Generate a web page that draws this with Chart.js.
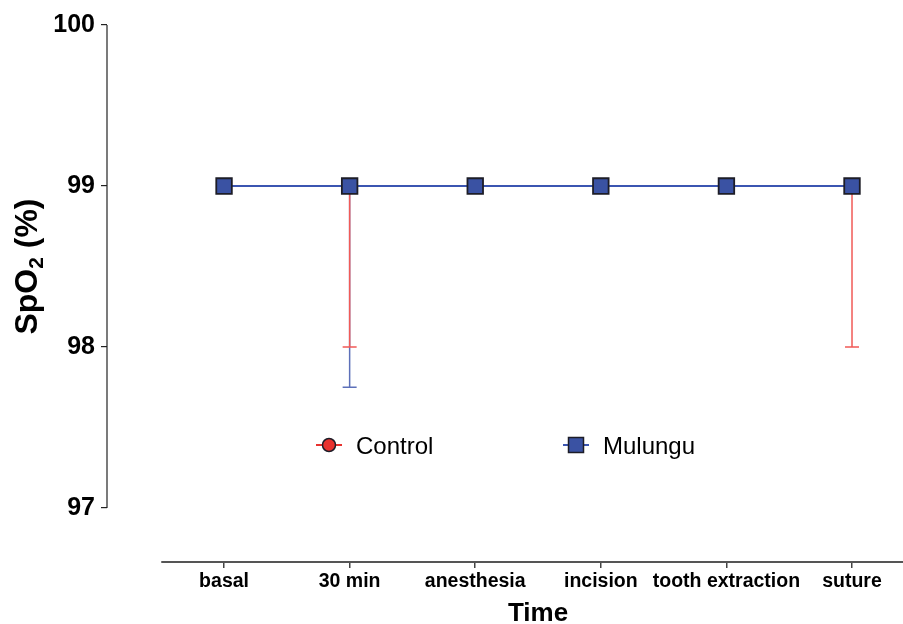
<!DOCTYPE html>
<html>
<head>
<meta charset="utf-8">
<script src="https://cdn.jsdelivr.net/npm/chart.js@4.4.1/dist/chart.umd.min.js"></script>
<style>
  html, body { margin: 0; padding: 0; background: #ffffff; }
  #wrap { width: 903px; height: 624px; }
</style>
</head>
<body>
<div id="wrap"><canvas id="c" width="903" height="624"></canvas></div>
<script>
// SpO2 over the course of the procedure, mean with one-sided (lower) error
const categories = ['basal', '30 min', 'anesthesia', 'incision', 'tooth extraction', 'suture'];
const controlMean = [99, 99, 99, 99, 99, 99];
const controlErr  = [0, 1, 0, 0, 0, 1];
const mulunguMean = [99, 99, 99, 99, 99, 99];
const mulunguErr  = [0, 1.25, 0, 0, 0, 0];
const yTicks = [97, 98, 99, 100];
const xTicks = [0, 1, 2, 3, 4, 5];

const FONT = '"Liberation Sans", Arial, Helvetica, sans-serif';

const RED = '#e8322f';
const RED_BAR = '#f15a57';
const BLUE = '#3a52a3';
const BLUE_LINE = '#3b55b1';
const BLUE_BAR = '#5d70b9';
const EDGE = '#1d1d27';

const toPoints = (arr) => arr.map((v, i) => ({ x: i, y: v }));

// Axis lines drawn in the offset style: y spans only its tick range,
// x starts half a category before the first point.
const axisLines = {
  id: 'axisLines',
  afterDraw(chart) {
    const { ctx, chartArea, scales } = chart;
    const y = scales.y, x = scales.x;
    ctx.save();
    ctx.strokeStyle = '#222';
    ctx.lineWidth = 1.2;
    ctx.beginPath();
    ctx.moveTo(chartArea.left, y.getPixelForValue(yTicks[0]));
    ctx.lineTo(chartArea.left, y.getPixelForValue(yTicks[yTicks.length - 1]));
    ctx.stroke();
    ctx.strokeStyle = '#555';
    ctx.lineWidth = 2;
    ctx.beginPath();
    ctx.moveTo(x.getPixelForValue(-0.5), chartArea.bottom);
    ctx.lineTo(chartArea.right, chartArea.bottom);
    ctx.stroke();
    // x-axis title, centred under the category band
    ctx.fillStyle = '#000';
    ctx.font = 'bold 26px ' + FONT;
    ctx.textAlign = 'center';
    ctx.textBaseline = 'alphabetic';
    ctx.fillText('Time', x.getPixelForValue((xTicks[0] + xTicks[xTicks.length - 1]) / 2), 621);
    ctx.restore();
  }
};

// Lower error bars with caps, drawn under the markers
const errorBars = {
  id: 'errorBars',
  beforeDatasetsDraw(chart) {
    const { ctx, scales } = chart;
    const sets = [
      { mean: mulunguMean, err: mulunguErr, color: BLUE_BAR },
      { mean: controlMean, err: controlErr, color: RED_BAR }
    ];
    ctx.save();
    ctx.lineWidth = 1.5;
    sets.forEach(s => {
      ctx.strokeStyle = s.color;
      s.mean.forEach((m, i) => {
        if (!s.err[i]) return;
        const px = scales.x.getPixelForValue(i);
        const y0 = scales.y.getPixelForValue(m);
        const y1 = scales.y.getPixelForValue(m - s.err[i]);
        ctx.beginPath();
        ctx.moveTo(px, y0);
        ctx.lineTo(px, y1);
        ctx.moveTo(px - 7, y1);
        ctx.lineTo(px + 7, y1);
        ctx.stroke();
      });
    });
    ctx.restore();
  }
};

// Y-axis title with a subscript 2
const yTitle = {
  id: 'yTitle',
  afterDraw(chart) {
    const { ctx, chartArea } = chart;
    const big = 'bold 32px ' + FONT;
    const small = 'bold 21px ' + FONT;
    ctx.save();
    ctx.fillStyle = '#000';
    ctx.textBaseline = 'alphabetic';
    ctx.textAlign = 'left';
    ctx.font = big;
    const w1 = ctx.measureText('SpO').width;
    const w3 = ctx.measureText(' (%)').width;
    ctx.font = small;
    const w2 = ctx.measureText('2').width;
    const total = w1 + w2 + w3;
    const cy = (chartArea.top + chart.scales.y.getPixelForValue(yTicks[0])) / 2;
    ctx.translate(37, cy);
    ctx.rotate(-Math.PI / 2);
    let xr = -total / 2;
    ctx.font = big;
    ctx.fillText('SpO', xr, 0);
    xr += w1;
    ctx.font = small;
    ctx.fillText('2', xr, 6);
    xr += w2;
    ctx.font = big;
    ctx.fillText(' (%)', xr, 0);
    ctx.restore();
  }
};

// Legend placed inside the plot area
const innerLegend = {
  id: 'innerLegend',
  afterDraw(chart) {
    const { ctx } = chart;
    const items = [
      { ds: chart.data.datasets[0], cx: 329 },
      { ds: chart.data.datasets[1], cx: 576 }
    ];
    const cy = 445;
    ctx.save();
    items.forEach(it => {
      const ds = it.ds;
      ctx.strokeStyle = ds.borderColor;
      ctx.lineWidth = 2;
      ctx.beginPath();
      ctx.moveTo(it.cx - 13, cy);
      ctx.lineTo(it.cx + 13, cy);
      ctx.stroke();
      ctx.fillStyle = ds.pointBackgroundColor;
      ctx.strokeStyle = ds.pointBorderColor;
      ctx.lineWidth = 1.5;
      ctx.beginPath();
      if (ds.pointStyle === 'rect') {
        ctx.rect(it.cx - 7.5, cy - 7.5, 15, 15);
      } else {
        ctx.arc(it.cx, cy, 6.5, 0, Math.PI * 2);
      }
      ctx.fill();
      ctx.stroke();
      ctx.fillStyle = '#000';
      ctx.font = '24px ' + FONT;
      ctx.textBaseline = 'alphabetic';
      ctx.textAlign = 'left';
      ctx.fillText(ds.label, it.cx + 27, cy + 9);
    });
    ctx.restore();
  }
};

new Chart(document.getElementById('c'), {
  type: 'line',
  data: {
    datasets: [
      {
        label: 'Control',
        order: 2,
        data: toPoints(controlMean),
        borderColor: RED,
        borderWidth: 2,
        pointStyle: 'circle',
        pointRadius: 7,
        pointBackgroundColor: RED,
        pointBorderColor: EDGE,
        pointBorderWidth: 1.5
      },
      {
        label: 'Mulungu',
        order: 1,
        data: toPoints(mulunguMean),
        borderColor: BLUE_LINE,
        borderWidth: 2,
        pointStyle: 'rect',
        pointRadius: 11,
        pointBackgroundColor: BLUE,
        pointBorderColor: EDGE,
        pointBorderWidth: 1.8
      }
    ]
  },
  options: {
    responsive: false,
    animation: false,
    devicePixelRatio: 1,
    layout: { autoPadding: false, padding: { top: 25, right: 0, bottom: 0, left: 0 } },
    plugins: { legend: { display: false }, tooltip: { enabled: false } },
    scales: {
      x: {
        type: 'linear',
        min: -0.932,
        max: 5.406,
        afterFit(scale) { scale.height = 62; scale.paddingLeft = 0; scale.paddingRight = 0; },
        afterBuildTicks(scale) { scale.ticks = xTicks.map(v => ({ value: v })); },
        border: { display: false },
        grid: { drawOnChartArea: false, drawTicks: true, tickLength: 6, color: '#444', lineWidth: 1.5 },
        ticks: {
          padding: 2,
          maxRotation: 0,
          autoSkip: false,
          color: '#000',
          font: { family: FONT, size: 19.5, weight: 'bold' },
          callback: (v) => categories[v]
        }
      },
      y: {
        type: 'linear',
        min: 96.665,
        max: 100,
        afterFit(scale) { scale.width = 107; },
        afterBuildTicks(scale) { scale.ticks = yTicks.map(v => ({ value: v })); },
        border: { display: false },
        grid: { drawOnChartArea: false, drawTicks: true, tickLength: 6, color: '#222', lineWidth: 1.2 },
        ticks: {
          padding: 6,
          color: '#000',
          font: { family: FONT, size: 25, weight: 'bold' }
        }
      }
    }
  },
  plugins: [axisLines, errorBars, yTitle, innerLegend]
});
</script>
</body>
</html>
